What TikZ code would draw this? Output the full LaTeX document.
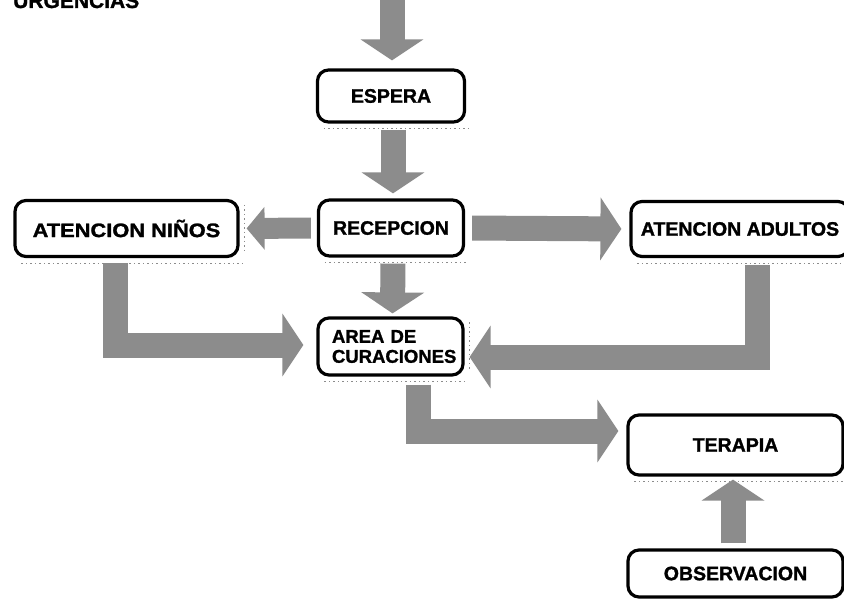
\documentclass[tikz,border=0pt]{standalone}
\usepackage{fontspec}
\usepackage{graphicx}
\setmainfont{Liberation Sans}
\newfontfamily\boxfont[FakeBold=1.3]{Liberation Sans Bold}
\usetikzlibrary{arrows.meta,calc}
\begin{document}
\begin{tikzpicture}[x=1pt,y=-1pt,
  box/.style={draw=black, line width=3.2pt, rounded corners=11pt, fill=white,
    font=\boxfont\fontsize{19.5}{21}\selectfont, inner sep=0pt},
  barrow/.style={draw=black!45, line width=25pt, line join=miter,
    -{Triangle[width=62pt,length=21pt]}},
  sarrow/.style={draw=black!45, line width=21pt, line join=miter,
    -{Triangle[width=42pt,length=18pt]}},
  shade/.style={draw=black!45, line width=0.8pt, dash pattern=on 1.5pt off 3pt},
  ttl/.style={font=\boxfont\fontsize{21}{21}\selectfont, inner sep=0pt}]
\useasboundingbox (0,0) rectangle (844,599);
\clip (0,0) rectangle (844,599);

\node[ttl, anchor=base west] (urg) at (13,8) {URGENCIAS};

\node[box, minimum width=147, minimum height=52] (espera) at (391,96) {ESPERA};
\node[box, minimum width=145, minimum height=56] (recep) at (391,228) {RECEPCION};
\node[box, minimum width=223, minimum height=56] (ninos) at (126.5,228.5) {\scalebox{1.12}[1]{ATENCION NIÑOS}};
\node[box, minimum width=218, minimum height=55] (adultos) at (740,229) {ATENCION ADULTOS};
\node[box, minimum width=145, minimum height=57, align=left, text width=117,
  font=\boxfont\fontsize{18.5}{20}\selectfont] (area) at (390.5,346.5) {AREA DE\\CURACIONES};
\node[box, minimum width=215, minimum height=60] (terapia) at (735.5,445) {TERAPIA};
\node[box, minimum width=215, minimum height=47] (observ) at (735.5,573.5) {OBSERVACION};

\foreach \n in {espera,recep,ninos,adultos,area,terapia}
  \draw[shade] ([xshift=8pt,yshift=-5pt]\n.south west) -- ([xshift=3pt,yshift=-5pt]\n.south east);
\draw[shade] ([xshift=5pt,yshift=-6pt]ninos.north east) -- ([xshift=5pt,yshift=6pt]ninos.south east);
\draw[shade] ([xshift=5pt,yshift=-6pt]area.north east) -- ([xshift=5pt,yshift=6pt]area.south east);

\coordinate (topin) at (392,-5);
\draw[barrow, shorten >=8pt] (topin) -- (topin |- espera.north);
\draw[barrow, shorten <=6pt, shorten >=5pt] ([xshift=2pt]espera.south) -- ([xshift=2pt]recep.north);
\draw[sarrow, shorten <=6pt, shorten >=7pt] (recep.west) -- (ninos.east);
\draw[barrow, shorten <=7pt, shorten >=8pt] (recep.east) -- (adultos.west);
\draw[barrow, shorten <=6pt, shorten >=3pt] ([xshift=2pt]recep.south) -- ([xshift=2pt]area.north);
\draw[barrow, shorten >=13pt] ([xshift=-11.5pt,yshift=-5pt]ninos.south) |- ([yshift=1.5pt]area.west);
\draw[barrow, shorten >=5pt] ([xshift=17pt,yshift=-7pt]adultos.south) |- ([yshift=-10.5pt]area.east);
\draw[barrow, shorten >=8pt] ([xshift=28pt,yshift=-8pt]area.south) |- ([yshift=14pt]terapia.west);
\draw[barrow, shorten <=5pt, shorten >=3pt] ([xshift=-2.5pt]observ.north) -- ([xshift=-2.5pt]terapia.south);
\end{tikzpicture}
\end{document}
